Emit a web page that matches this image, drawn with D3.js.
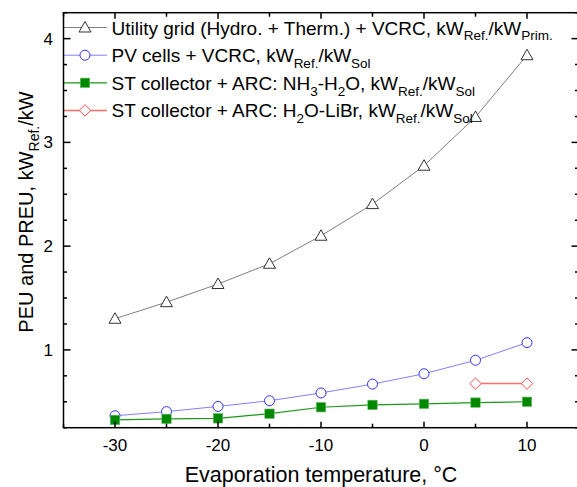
<!DOCTYPE html>
<html>
<head>
<meta charset="utf-8">
<script src="https://cdn.jsdelivr.net/npm/d3@7"></script>
<style>
  body { margin: 0; background: #fff; }
  svg { display: block; font-family: "Liberation Sans", Arial, sans-serif; }
</style>
</head>
<body>
<svg id="chart" width="577" height="487"></svg>
<script>
// evaporation temperature, degC
const temps = [-30, -25, -20, -15, -10, -5, 0, 5, 10];
const gridVcrc = [1.30, 1.46, 1.635, 1.83, 2.10, 2.405, 2.775, 3.245, 3.84];
const pvVcrc = [0.365, 0.405, 0.455, 0.51, 0.585, 0.67, 0.77, 0.90, 1.07];
const stNh3 = [0.325, 0.335, 0.34, 0.385, 0.447, 0.47, 0.48, 0.492, 0.50];
const libTemps = [5, 10];
const stLibr = [0.675, 0.675];

const xTicks = [-30, -20, -10, 0, 10];
const yTicks = [1, 2, 3, 4];

const svg = d3.select('#chart');
const padL = 63.5, padR = 578.5, padT = 12.7, padB = 427.7;

const x = d3.scaleLinear().domain([-35, 15]).range([padL, padR]);
const y = d3.scaleLinear().domain([0.25, 4.25]).range([padB, padT]);

// rich text helper: parts are [text, isSub]
function rich(sel, parts, size, subSize) {
    parts.forEach(function(p, i) {
        const prev = i > 0 ? parts[i - 1][1] : false;
        let dy = 0;
        if (p[1] && !prev) dy = size * 0.3;
        if (!p[1] && prev) dy = -size * 0.3;
        sel.append('tspan')
            .attr('dy', dy)
            .attr('font-size', p[1] ? subSize : size)
            .text(p[0]);
    });
}

const series = [
    {xs: temps, ys: gridVcrc, line: '#808080', lw: 1, stroke: '#333', fill: 'none', shape: 'tri',
     label: [['Utility grid (Hydro. + Therm.) + VCRC, kW', false], ['Ref.', true], ['/kW', false], ['Prim.', true]]},
    {xs: temps, ys: pvVcrc, line: '#8080ff', lw: 1, stroke: '#3333ff', fill: 'none', shape: 'circ',
     label: [['PV cells + VCRC, kW', false], ['Ref.', true], ['/kW', false], ['Sol', true]]},
    {xs: temps, ys: stNh3, line: '#1a991a', lw: 1.2, stroke: '#66bb66', fill: '#008800', shape: 'sq',
     label: [['ST collector + ARC: NH', false], ['3', true], ['-H', false], ['2', true], ['O, kW', false], ['Ref.', true], ['/kW', false], ['Sol', true]]},
    {xs: libTemps, ys: stLibr, line: '#ff6c6c', lw: 1.5, stroke: '#ff4d4d', fill: 'none', shape: 'dia',
     label: [['ST collector + ARC: H', false], ['2', true], ['O-LiBr, kW', false], ['Ref.', true], ['/kW', false], ['Sol', true]]}
];

function marker(g, s, cx, cy) {
    if (s.shape === 'tri') {
        g.append('path').attr('d', `M${cx},${cy - 6}L${cx + 6},${cy + 4.5}L${cx - 6},${cy + 4.5}Z`)
            .attr('fill', '#fff').attr('stroke', s.stroke).attr('stroke-width', 1);
    } else if (s.shape === 'circ') {
        g.append('circle').attr('cx', cx).attr('cy', cy).attr('r', 5)
            .attr('fill', '#fff').attr('stroke', s.stroke).attr('stroke-width', 1);
    } else if (s.shape === 'sq') {
        g.append('rect').attr('x', cx - 4.7).attr('y', cy - 4.7).attr('width', 9.4).attr('height', 9.4)
            .attr('fill', s.fill).attr('stroke', s.stroke).attr('stroke-width', 0.6);
    } else {
        g.append('path').attr('d', `M${cx},${cy - 5.7}L${cx + 5.7},${cy}L${cx},${cy + 5.7}L${cx - 5.7},${cy}Z`)
            .attr('fill', '#fff').attr('stroke', s.stroke).attr('stroke-width', 1);
    }
}

const plot = svg.append('g');
series.forEach(function(s) {
    const pts = s.xs.map((t, i) => [x(t), y(s.ys[i])]);
    plot.append('path').attr('d', d3.line()(pts))
        .attr('fill', 'none').attr('stroke', s.line).attr('stroke-width', s.lw);
    pts.forEach(p => marker(plot, s, p[0], p[1]));
});

// legend
const legY = [27.5, 55.2, 82.8, 110.4];
series.forEach(function(s, i) {
    const g = svg.append('g');
    g.append('line').attr('x1', padL).attr('x2', 107).attr('y1', legY[i]).attr('y2', legY[i])
        .attr('stroke', s.line).attr('stroke-width', s.lw);
    marker(g, s, 85, legY[i]);
    const t = g.append('text').attr('x', 111.5).attr('y', legY[i] + 7).attr('fill', '#000');
    rich(t, s.label, 19, 13.5);
});

// axes: ticks pointing inward on all four sides
const minorX = d3.range(-35, 15.01, 5);
const minorY = d3.range(0.25, 4.26, 0.25);
const ax = svg.append('g').attr('stroke', '#000').attr('stroke-width', 1.5);
minorX.forEach(function(v) {
    const len = xTicks.includes(v) ? 6 : 4;
    ax.append('line').attr('x1', x(v)).attr('x2', x(v)).attr('y1', padB).attr('y2', padB - len);
    ax.append('line').attr('x1', x(v)).attr('x2', x(v)).attr('y1', padT).attr('y2', padT + len);
});
minorY.forEach(function(v) {
    const major = Math.abs(v - Math.round(v)) < 1e-6;
    const len = major ? 7 : 3.5;
    ax.append('line').attr('x1', padL).attr('x2', padL + len).attr('y1', y(v)).attr('y2', y(v));
    ax.append('line').attr('x1', padR).attr('x2', padR - len).attr('y1', y(v)).attr('y2', y(v));
});
ax.append('rect').attr('x', padL).attr('y', padT).attr('width', padR - padL).attr('height', padB - padT)
    .attr('fill', 'none');

svg.append('g').selectAll('text').data(xTicks).enter().append('text')
    .attr('x', d => x(d)).attr('y', 450.5).attr('text-anchor', 'middle')
    .attr('font-size', 17).text(d => d);
svg.append('g').selectAll('text').data(yTicks).enter().append('text')
    .attr('x', 53).attr('y', d => y(d) + 6).attr('text-anchor', 'end')
    .attr('font-size', 17).text(d => d);

svg.append('text').attr('x', (padL + padR) / 2).attr('y', 482).attr('text-anchor', 'middle')
    .attr('font-size', 21.5).text('Evaporation temperature, \u00b0C');

const yt = svg.append('text').attr('transform', 'translate(33,212) rotate(-90)')
    .attr('text-anchor', 'middle');
rich(yt, [['PEU and PREU, kW', false], ['Ref.', true], ['/kW', false]], 20, 14);
</script>
</body>
</html>
